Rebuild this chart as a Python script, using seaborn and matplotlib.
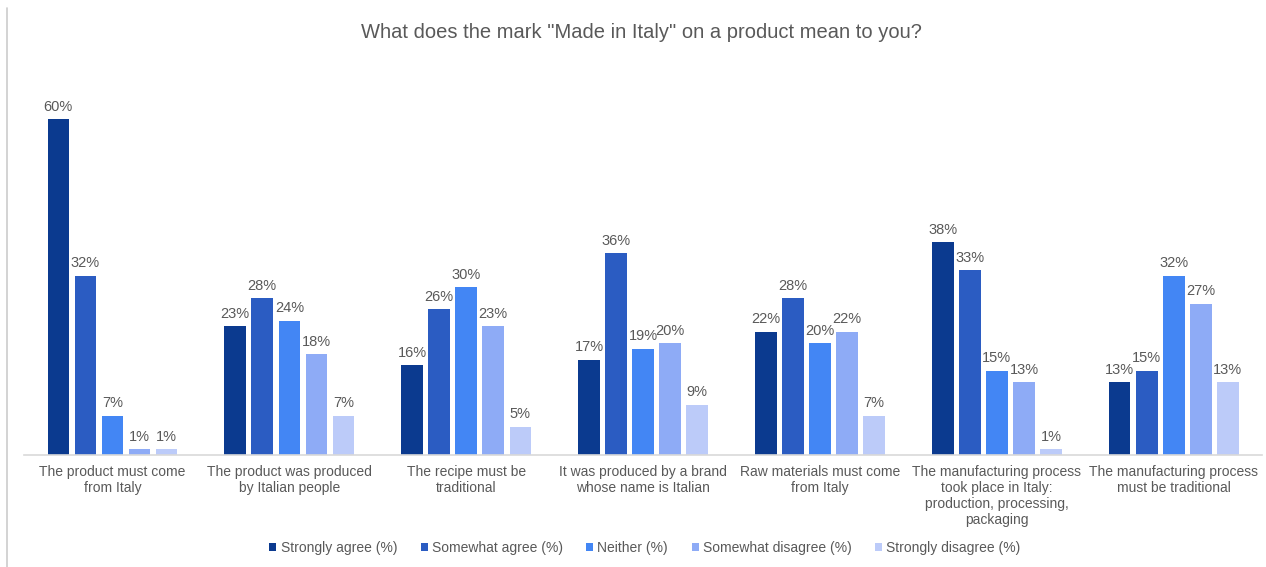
import matplotlib
matplotlib.use("Agg")
import matplotlib.pyplot as plt
import matplotlib.patches as mpatches
import matplotlib.lines as mlines
import seaborn as sns
import pandas as pd

categories = [
    "The product must come\nfrom Italy",
    "The product was produced\nby Italian people",
    "The recipe must be\ntraditional",
    "It was produced by a brand\nwhose name is Italian",
    "Raw materials must come\nfrom Italy",
    "The manufacturing process\ntook place in Italy:\nproduction, processing,\npackaging",
    "The manufacturing process\nmust be traditional",
]
series_names = [
    "Strongly agree (%)",
    "Somewhat agree (%)",
    "Neither (%)",
    "Somewhat disagree (%)",
    "Strongly disagree (%)",
]
strongly_agree = [60, 23, 16, 17, 22, 38, 13]
somewhat_agree = [32, 28, 26, 36, 28, 33, 15]
neither = [7, 24, 30, 19, 20, 15, 32]
somewhat_disagree = [1, 18, 23, 20, 22, 13, 27]
strongly_disagree = [1, 7, 5, 9, 7, 1, 13]
title = 'What does the mark "Made in Italy" on a product mean to you?'

colors = ["#0b3a8f", "#2b5cc2", "#4386f4", "#8eabf6", "#bccbf9"]

series_values = [strongly_agree, somewhat_agree, neither, somewhat_disagree, strongly_disagree]
rows = []
for name, vals in zip(series_names, series_values):
    for cat, v in zip(categories, vals):
        rows.append({"category": cat, "series": name, "value": v})
df = pd.DataFrame(rows)

sns.set_theme(style="white")
plt.rcParams["font.family"] = ["Liberation Sans", "DejaVu Sans"]
text_color = "#595959"

fig = plt.figure(figsize=(12.66, 5.67), dpi=100)
ax = fig.add_axes([0.019, 0.1975, 0.978, 0.6615])

sns.barplot(
    data=df, x="category", y="value", hue="series",
    order=categories, hue_order=series_names, palette=colors,
    width=0.765, gap=0.2, saturation=1, legend=False, ax=ax,
    edgecolor="none",
)

for container in ax.containers:
    ax.bar_label(container, labels=[f"{v:.0f}%" for v in container.datavalues],
                 padding=4, fontsize=10.5, color=text_color)

ax.set_ylim(0, 67)
ax.set_xlim(-0.5, len(categories) - 0.5)
ax.set_xlabel("")
ax.set_ylabel("")
ax.set_yticks([])
for side in ["top", "right", "left"]:
    ax.spines[side].set_visible(False)
ax.spines["bottom"].set_color("#d9d9d9")
ax.spines["bottom"].set_linewidth(1.2)
ax.tick_params(axis="x", length=0, pad=7, labelsize=10, labelcolor=text_color)

fig.text(641 / 1266, 1 - 32 / 567, title, ha="center", va="center",
         fontsize=14.5, color=text_color)

handles = [mpatches.Patch(facecolor=c, edgecolor="none") for c in colors]
fig.legend(handles, series_names, loc="center", bbox_to_anchor=(645 / 1266, 1 - 548 / 567),
           ncol=5, frameon=False, fontsize=10, labelcolor=text_color,
           handlelength=0.5, handleheight=0.5, handletextpad=0.3, columnspacing=1.7)

fig.add_artist(mlines.Line2D([7 / 1266, 7 / 1266], [0, 1 - 8 / 567],
                             transform=fig.transFigure, color="#cccccc", linewidth=1.2))

fig.savefig("out.png", dpi=100, facecolor="white")
